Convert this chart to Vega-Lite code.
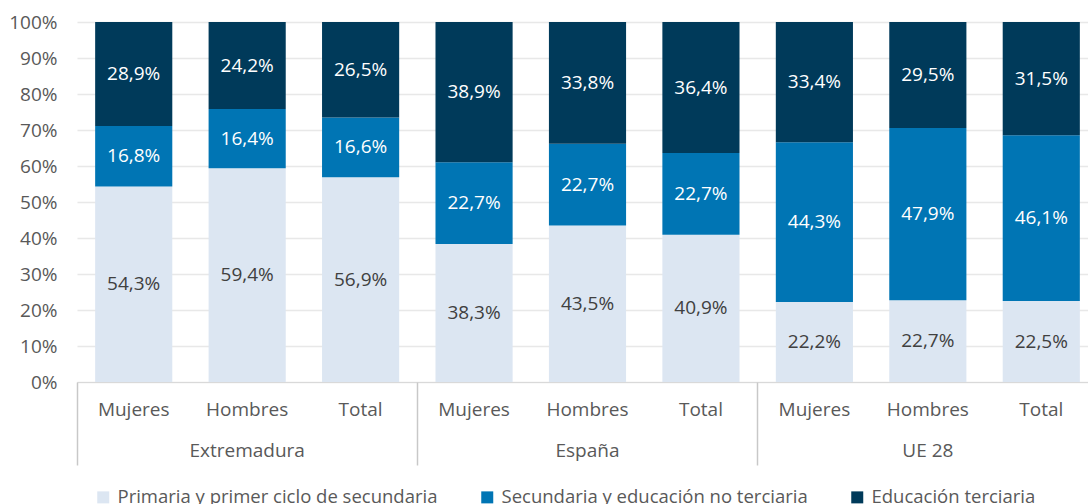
{
  "$schema": "https://vega.github.io/schema/vega-lite/v6.json",
  "width": 1021,
  "height": 360,
  "autosize": {"type": "none"},
  "padding": {"left": 77, "top": 22, "right": 0, "bottom": 122},
  "config": {
    "locale": {"number": {"decimal": ",", "thousands": ".", "grouping": [3], "currency": ["", " €"]}},
    "font": "Open Sans",
    "view": {"stroke": null},
    "axis": {"labelFont": "Open Sans", "labelFontSize": 19, "labelColor": "#595959", "title": null}
  },
  "data": {"values": [
    {"group": "Extremadura", "cat": "Mujeres", "level": "Primaria y primer ciclo de secundaria", "value": 54.3},
    {"group": "Extremadura", "cat": "Mujeres", "level": "Secundaria y educación no terciaria", "value": 16.8},
    {"group": "Extremadura", "cat": "Mujeres", "level": "Educación terciaria", "value": 28.9},
    {"group": "Extremadura", "cat": "Hombres", "level": "Primaria y primer ciclo de secundaria", "value": 59.4},
    {"group": "Extremadura", "cat": "Hombres", "level": "Secundaria y educación no terciaria", "value": 16.4},
    {"group": "Extremadura", "cat": "Hombres", "level": "Educación terciaria", "value": 24.2},
    {"group": "Extremadura", "cat": "Total", "level": "Primaria y primer ciclo de secundaria", "value": 56.9},
    {"group": "Extremadura", "cat": "Total", "level": "Secundaria y educación no terciaria", "value": 16.6},
    {"group": "Extremadura", "cat": "Total", "level": "Educación terciaria", "value": 26.5},
    {"group": "España", "cat": "Mujeres", "level": "Primaria y primer ciclo de secundaria", "value": 38.3},
    {"group": "España", "cat": "Mujeres", "level": "Secundaria y educación no terciaria", "value": 22.7},
    {"group": "España", "cat": "Mujeres", "level": "Educación terciaria", "value": 38.9},
    {"group": "España", "cat": "Hombres", "level": "Primaria y primer ciclo de secundaria", "value": 43.5},
    {"group": "España", "cat": "Hombres", "level": "Secundaria y educación no terciaria", "value": 22.7},
    {"group": "España", "cat": "Hombres", "level": "Educación terciaria", "value": 33.8},
    {"group": "España", "cat": "Total", "level": "Primaria y primer ciclo de secundaria", "value": 40.9},
    {"group": "España", "cat": "Total", "level": "Secundaria y educación no terciaria", "value": 22.7},
    {"group": "España", "cat": "Total", "level": "Educación terciaria", "value": 36.4},
    {"group": "UE 28", "cat": "Mujeres", "level": "Primaria y primer ciclo de secundaria", "value": 22.2},
    {"group": "UE 28", "cat": "Mujeres", "level": "Secundaria y educación no terciaria", "value": 44.3},
    {"group": "UE 28", "cat": "Mujeres", "level": "Educación terciaria", "value": 33.4},
    {"group": "UE 28", "cat": "Hombres", "level": "Primaria y primer ciclo de secundaria", "value": 22.7},
    {"group": "UE 28", "cat": "Hombres", "level": "Secundaria y educación no terciaria", "value": 47.9},
    {"group": "UE 28", "cat": "Hombres", "level": "Educación terciaria", "value": 29.5},
    {"group": "UE 28", "cat": "Total", "level": "Primaria y primer ciclo de secundaria", "value": 22.5},
    {"group": "UE 28", "cat": "Total", "level": "Secundaria y educación no terciaria", "value": 46.1},
    {"group": "UE 28", "cat": "Total", "level": "Educación terciaria", "value": 31.5}
  ]},
  "transform": [
    {"calculate": "datum.group + '|' + datum.cat", "as": "key"},
    {"calculate": "indexof(['Primaria y primer ciclo de secundaria','Secundaria y educación no terciaria','Educación terciaria'], datum.level)", "as": "ord"},
    {"stack": "value", "groupby": ["key"], "sort": [{"field": "ord", "order": "ascending"}], "offset": "normalize", "as": ["y0", "y1"]},
    {"calculate": "(datum.y0 + datum.y1) / 2", "as": "ymid"},
    {"calculate": "datum.value / 100", "as": "frac"}
  ],
  "layer": [
    {
      "encoding": {
        "x": {
          "field": "key", "type": "nominal", "sort": null,
          "scale": {"paddingInner": 0.32, "paddingOuter": 0.16},
          "axis": {"labelAngle": 0, "ticks": false, "labelPadding": 18, "domainColor": "#d9d9d9", "labelExpr": "split(datum.label, '|')[1]"}
        }
      },
      "layer": [
        {
          "mark": {"type": "bar"},
          "encoding": {
            "y": {
              "field": "y0", "type": "quantitative",
              "scale": {"domain": [0, 1]},
              "axis": {"format": ".0%", "values": [0, 0.1, 0.2, 0.3, 0.4, 0.5, 0.6, 0.7, 0.8, 0.9, 1], "labelOverlap": false, "domain": false, "ticks": false, "labelPadding": 20, "grid": true, "gridColor": "#e8e8e8", "gridWidth": 1.5}
            },
            "y2": {"field": "y1"},
            "color": {
              "field": "level", "type": "nominal",
              "scale": {
                "domain": ["Primaria y primer ciclo de secundaria", "Secundaria y educación no terciaria", "Educación terciaria"],
                "range": ["#dce6f2", "#0075b4", "#003a5a"]
              },
              "legend": {
                "orient": "none", "legendX": 17, "legendY": 466, "direction": "horizontal",
                "title": null, "symbolType": "square", "symbolSize": 144, "symbolStrokeWidth": 0,
                "labelFont": "Open Sans", "labelFontSize": 18.5, "labelColor": "#595959", "labelLimit": 0,
                "columnPadding": 40, "labelOffset": 5
              }
            }
          }
        },
        {
          "mark": {"type": "text", "font": "Open Sans", "fontSize": 19},
          "encoding": {
            "y": {"field": "ymid", "type": "quantitative", "axis": {"format": ".0%", "values": [0, 0.1, 0.2, 0.3, 0.4, 0.5, 0.6, 0.7, 0.8, 0.9, 1], "labelOverlap": false, "domain": false, "ticks": false, "labelPadding": 20, "grid": true, "gridColor": "#e8e8e8", "gridWidth": 1.5}},
            "text": {"field": "frac", "type": "quantitative", "format": ".1%"},
            "color": {
              "condition": {"test": "datum.ord === 0", "value": "#404040"},
              "value": "#ffffff"
            }
          }
        }
      ]
    },
    {
      "mark": {"type": "rule", "strokeOpacity": 0},
      "encoding": {
        "x": {
          "field": "group", "type": "nominal", "sort": null,
          "scale": {"paddingInner": 0, "paddingOuter": 0},
          "axis": {"orient": "bottom", "labelAngle": 0, "domain": false, "ticks": true, "bandPosition": 0, "tickSize": 83, "tickColor": "#c8c8c8", "tickWidth": 1.5, "labelPadding": -24}
        }
      }
    }
  ],
  "resolve": {"scale": {"x": "independent"}, "axis": {"x": "independent"}}
}
